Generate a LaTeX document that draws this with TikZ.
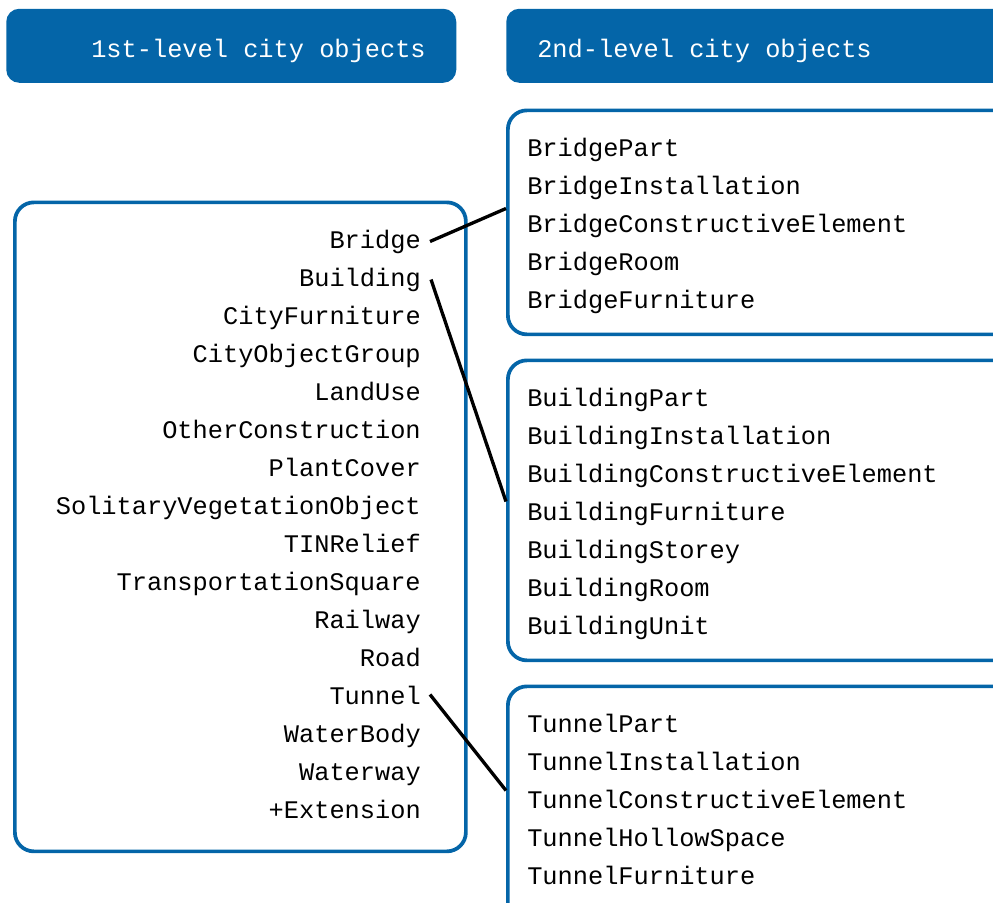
\documentclass[tikz,border=0pt]{standalone}
\usepackage{fontspec}
\setmonofont{Liberation Mono}
\usetikzlibrary{calc}
\definecolor{cgblue}{HTML}{0465A8}
\begin{document}
\begin{tikzpicture}[x=0.75pt,y=-0.75pt,
  hdr/.style={fill=cgblue,draw=none,rounded corners=13*0.75pt,anchor=north west,inner sep=0pt},
  grp/.style={draw=cgblue,line width=2.8pt,rounded corners=19*0.75pt,anchor=north west,inner sep=0pt},
  itm/.style={font=\ttfamily\fontsize{19}{19}\selectfont,inner sep=0pt},
  ltxt/.style={itm,anchor=base east},
  rtxt/.style={itm,anchor=base west},
  htxt/.style={itm,anchor=base west,text=white},
  link/.style={draw=black,line width=2.5pt}]
\useasboundingbox (0,0) rectangle (993,903);
\clip (0,0) rectangle (993,903);
% headers
\node[hdr,minimum width=450*0.75pt,minimum height=74*0.75pt] (h1) at (6,8.5) {};
\node[hdr,minimum width=520*0.75pt,minimum height=74*0.75pt] (h2) at (506,8.5) {};
\node[htxt] (h1t) at (91,57.5) {1st-level city objects};
\node[htxt] (h2t) at (537,57.5) {2nd-level city objects};
% group boxes
\node[grp,minimum width=451*0.75pt,minimum height=649*0.75pt] (lbox) at (13,200.5) {};
\node[grp,minimum width=520*0.75pt,minimum height=224*0.75pt] (bbox) at (506,108.5) {};
\node[grp,minimum width=520*0.75pt,minimum height=300*0.75pt] (gbox) at (506,358.5) {};
\node[grp,minimum width=520*0.75pt,minimum height=260*0.75pt] (tbox) at (506,684.5) {};
% left items
\foreach \t [count=\i from 0] in {Bridge,Building,CityFurniture,CityObjectGroup,LandUse,OtherConstruction,PlantCover,SolitaryVegetationObject,TINRelief,TransportationSquare,Railway,Road,Tunnel,WaterBody,Waterway,+Extension}
  \node[ltxt] (l\i) at (421,248.5+38*\i) {\t};
% bridge items
\foreach \t [count=\i from 0] in {BridgePart,BridgeInstallation,BridgeConstructiveElement,BridgeRoom,BridgeFurniture}
  \node[rtxt] (b\i) at (527,156.5+38*\i) {\t};
% building items
\foreach \t [count=\i from 0] in {BuildingPart,BuildingInstallation,BuildingConstructiveElement,BuildingFurniture,BuildingStorey,BuildingRoom,BuildingUnit}
  \node[rtxt] (g\i) at (527,406.5+38*\i) {\t};
% tunnel items
\foreach \t [count=\i from 0] in {TunnelPart,TunnelInstallation,TunnelConstructiveElement,TunnelHollowSpace,TunnelFurniture}
  \node[rtxt] (t\i) at (527,732.5+38*\i) {\t};
% connectors
\coordinate (bin) at ($(bbox.north west)+(0,100)$);
\coordinate (gin) at ($(gbox.north west)+(0,143)$);
\coordinate (tin) at ($(tbox.north west)+(0,106)$);
\draw[link] ($(l0.base east)+(9,-7)$) -- (bin);
\draw[link] ($(l1.base east)+(10,-7)$) -- (gin);
\draw[link] ($(l12.base east)+(9,-10)$) -- (tin);
\end{tikzpicture}
\end{document}
